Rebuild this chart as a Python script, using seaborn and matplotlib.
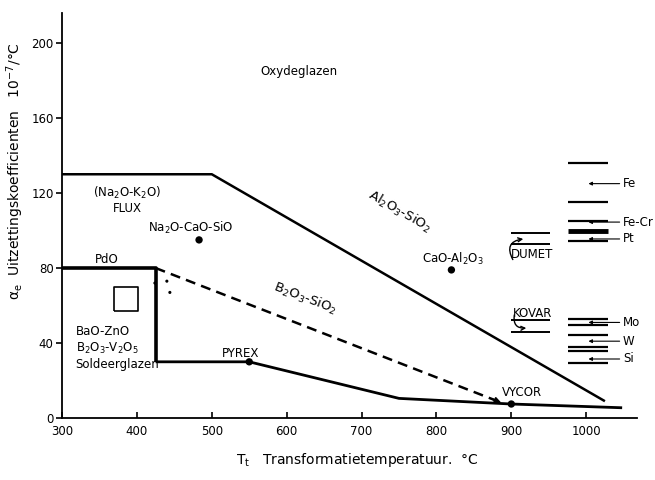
import matplotlib
matplotlib.use("Agg")
import matplotlib.pyplot as plt
import seaborn as sns
import pandas as pd

# boundary lines (T in degC, alpha in 1e-7/degC)
oxide_T = [300, 500, 1025]
oxide_a = [130, 130, 9]
solder_T = [300, 425, 425]
solder_a = [80, 80, 30]
borosil_T = [425, 550, 750, 900, 1048]
borosil_a = [30, 30, 10.5, 7.5, 5.5]
dashed_T = [425, 885]
dashed_a = [80, 8.5]

# glasses marked with a dot
glass_names = ["Na2O-CaO-SiO", "PYREX", "CaO-Al2O3", "VYCOR"]
glass_T = [483, 550, 820, 900]
glass_a = [95, 30, 79, 7.5]

# stray points near the PdO corner
stray_T = [424, 440, 444]
stray_a = [72, 73, 67]

# small box in the solder glass region
box_T = [370, 401, 401, 370, 370]
box_a = [57, 57, 70, 70, 57]

# metal expansion bars on the right
metal_bar_a = [136, 115, 105, 94.5, 53, 49.5, 44.5, 38, 36, 29.5]
metal_thick_a = [100]
metal_T = [976, 1029]
metal_names = ["Fe", "Fe-Cr", "Pt", "Mo", "W", "Si"]
metal_a = [125, 104.5, 95.5, 51, 41, 31.5]

# sealing alloys
dumet_a = [98.7, 92.8]
kovar_a = [52.3, 46]
alloy_T = [900, 952]

sns.set_style("ticks")
plt.rcParams['font.family'] = ['DejaVu Sans']
plt.rcParams['mathtext.default'] = 'regular'
plt.rcParams['text.color'] = 'black'
plt.rcParams['axes.labelcolor'] = 'black'
plt.rcParams['xtick.color'] = 'black'
plt.rcParams['ytick.color'] = 'black'
plt.rcParams['lines.solid_capstyle'] = 'butt'

fig = plt.figure(figsize=(6.55, 4.8), dpi=100)
ax = fig.add_axes([0.0947, 0.129, 0.878, 0.844])

lines = [
    (oxide_T, oxide_a, 1.8, '-'),
    (solder_T, solder_a, 2.6, '-'),
    (borosil_T, borosil_a, 2.0, '-'),
]
for xs, ys, lw, ls in lines:
    sns.lineplot(x=xs, y=ys, ax=ax, color='black', lw=lw, ls=ls,
                 estimator=None, sort=False)

ax.plot(dashed_T, dashed_a, color='black', lw=1.8, linestyle=(0, (4, 2.5)))
ax.annotate('', xy=(dashed_T[1] + 5, dashed_a[1] - 0.8),
            xytext=(dashed_T[1] - 15, dashed_a[1] + 2.3),
            arrowprops=dict(arrowstyle='-|>', color='black', lw=1.2,
                            mutation_scale=9))

glass_df = pd.DataFrame({'T': glass_T, 'a': glass_a, 'name': glass_names})
sns.scatterplot(data=glass_df, x='T', y='a', ax=ax, color='black', s=28,
                edgecolor='none', zorder=5)
sns.scatterplot(x=stray_T, y=stray_a, ax=ax, color='black', s=5,
                edgecolor='none')
ax.plot(box_T, box_a, color='black', lw=1.2)

for a in metal_bar_a:
    ax.plot(metal_T, [a, a], color='black', lw=1.6)
for a in metal_thick_a:
    ax.plot(metal_T, [a, a], color='black', lw=3.5)
for name, a in zip(metal_names, metal_a):
    ax.annotate(name, xy=(1003, a), xytext=(1049, a), fontsize=8.5,
                va='center', ha='left',
                arrowprops=dict(arrowstyle='-|>', color='black', lw=0.8,
                                mutation_scale=5, shrinkA=0, shrinkB=0))

for a in dumet_a + kovar_a:
    ax.plot(alloy_T, [a, a], color='black', lw=1.4)
ax.text(928, 87, "DUMET", fontsize=8.5, ha='center', va='center')
ax.text(928, 55.8, "KOVAR", fontsize=8.5, ha='center', va='center')
ax.annotate('', xy=(916, 95.5), xytext=(902, 84.5),
            arrowprops=dict(arrowstyle='->', color='black', lw=1.0,
                            connectionstyle='arc3,rad=-0.7', shrinkA=0,
                            shrinkB=0, mutation_scale=7))
ax.annotate('', xy=(920, 48), xytext=(904, 55),
            arrowprops=dict(arrowstyle='->', color='black', lw=1.0,
                            connectionstyle='arc3,rad=0.6', shrinkA=0,
                            shrinkB=0, mutation_scale=7))

# labels inside the plot
fs = 8.5
ax.text(617, 185, "Oxydeglazen", fontsize=fs, ha='center', va='center')
ax.text(387, 120, "(Na$_2$O-K$_2$O)", fontsize=fs, ha='center', va='center')
ax.text(387, 111.5, "FLUX", fontsize=fs, ha='center', va='center')
ax.text(472, 101.5, "Na$_2$O-CaO-SiO", fontsize=fs, ha='center', va='center')
ax.text(360, 84.5, "PdO", fontsize=fs, ha='center', va='center')
ax.text(318, 46, "BaO-ZnO", fontsize=fs, ha='left', va='center')
ax.text(318, 37, "B$_2$O$_3$-V$_2$O$_5$", fontsize=fs, ha='left', va='center')
ax.text(318, 28.5, "Soldeerglazen", fontsize=fs, ha='left', va='center')
ax.text(538, 34.5, "PYREX", fontsize=fs, ha='center', va='center')
ax.text(822, 85, "CaO-Al$_2$O$_3$", fontsize=fs, ha='center', va='center')
ax.text(914, 13.5, "VYCOR", fontsize=fs, ha='center', va='center')
ax.text(751, 110, "Al$_2$O$_3$-SiO$_2$", fontsize=9.5, ha='center',
        va='center', rotation=-30)
ax.text(625, 64, "B$_2$O$_3$-SiO$_2$", fontsize=9.5, ha='center',
        va='center', rotation=-21)

ax.set_xlim(300, 1068)
ax.set_ylim(0, 216)
ax.set_xticks([300, 400, 500, 600, 700, 800, 900, 1000])
ax.set_yticks([0, 40, 80, 120, 160, 200])
ax.tick_params(axis='x', direction='in', length=4, width=1.2, labelsize=8.5,
               pad=5, color='black')
ax.tick_params(axis='y', direction='out', length=4, width=1.2, labelsize=8.5,
               pad=2, color='black')
sns.despine(ax=ax)
for side in ['left', 'bottom']:
    ax.spines[side].set_linewidth(1.3)
    ax.spines[side].set_color('black')

ax.set_xlabel("T$_t$   Transformatietemperatuur.  °C", fontsize=10)
ax.set_ylabel("$\\alpha_e$  Uitzettingskoefficienten   10$^{-7}$/°C",
              fontsize=10)
ax.xaxis.set_label_coords(0.513, -0.082)
ax.yaxis.set_label_coords(-0.062, 0.61)

fig.savefig("out.png", dpi=100, facecolor='white')
